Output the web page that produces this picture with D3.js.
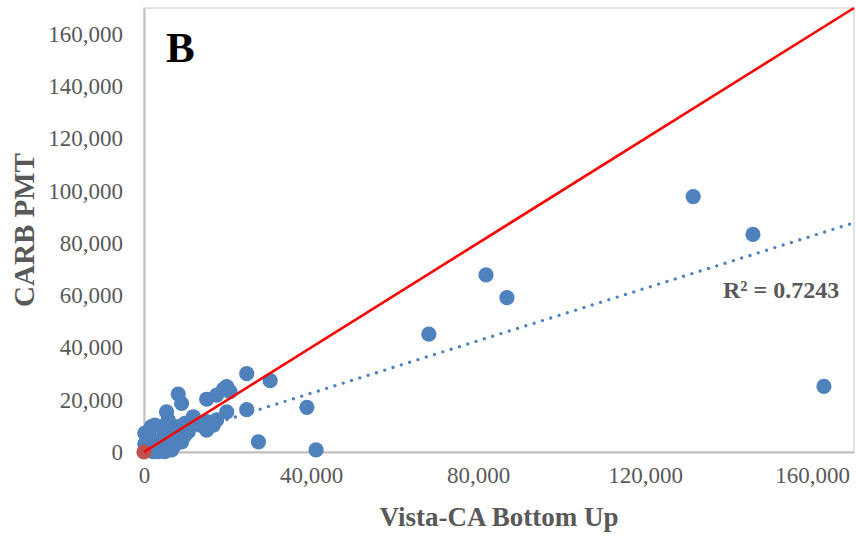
<!DOCTYPE html>
<html>
<head>
<meta charset="utf-8">
<script src="https://cdn.jsdelivr.net/npm/d3@7"></script>
<style>
  html, body { margin: 0; padding: 0; background: #ffffff; }
  svg { display: block; }
  text { font-family: "Liberation Serif", "Times New Roman", serif; }
</style>
</head>
<body>
<svg id="chart" width="856" height="536"></svg>
<script>
// Vista-CA bottom-up estimates (x) against CARB PMT (y)
const vistaX = [
  131500, 145800, 162800, 81900, 86900, 68200, 39000, 41200, 27400, 30200,
  24600, 24600, 19800, 8200, 15000, 19000, 20600, 19800, 17400, 9000,
  5400, 17400, 15800, 15000, 11800, 13400, 9800, 8200, 9000, 5800,
  4200, 1800, 1000, 200, 2600, 5800, 7400, 3000, 4200, 5800,
  1000, 2200, 3400, 7400, 9000, 9800, 10600, 6600, 5000, 1400,
  4500, 6700, 10500, 12200, 15000, 16600, 500, 1400, 200, 700,
  2600, 3800, 8900
];
const carbY = [
  97800, 83300, 25100, 67800, 59100, 45100, 17100, 800, 3900, 27300,
  30000, 16200, 15400, 22200, 20200, 24000, 23100, 25000, 21800, 18600,
  15400, 12300, 11000, 11600, 13500, 10300, 11000, 9700, 7800, 12300,
  9700, 9700, 7800, 7200, 10300, 5900, 4600, 3300, 2000, 2700,
  1400, 100, 100, 2700, 3900, 6500, 7800, 800, 100, 5400,
  5700, 7700, 9200, 11100, 8400, 10300, 1100, 2700, 3100, 4600,
  1500, 4200, 5400
];

// Reference point at the origin
const originX = [0];
const originY = [0];

const trendSlope = 0.502;
const trendIntercept = 2430;
const rSquared = "0.7243";

const xTicks = [0, 40000, 80000, 120000, 160000];
const yTicks = [0, 20000, 40000, 60000, 80000, 100000, 120000, 140000, 160000];
const axisMax = 170000;

const svg = d3.select("#chart");
const plotLeft = 144, plotRight = 854, plotTop = 8, plotBottom = 452;

const x = d3.scaleLinear().domain([0, axisMax]).range([plotLeft, plotRight]);
const y = d3.scaleLinear().domain([0, axisMax]).range([plotBottom, plotTop]);
const fmt = d3.format(",");

// plot frame
svg.append("rect")
  .attr("x", plotLeft).attr("y", plotTop)
  .attr("width", plotRight - plotLeft).attr("height", plotBottom - plotTop)
  .attr("fill", "none").attr("stroke", "#d9d9d9").attr("stroke-width", 1.5);

// axes
const gx = svg.append("g").attr("transform", `translate(0,${plotBottom})`)
  .call(d3.axisBottom(x).tickValues(xTicks).tickFormat(fmt).tickSize(0).tickPadding(15));
const gy = svg.append("g").attr("transform", `translate(${plotLeft},0)`)
  .call(d3.axisLeft(y).tickValues(yTicks).tickFormat(fmt).tickSize(0).tickPadding(21));
[gx, gy].forEach(g => {
  g.select(".domain").attr("stroke", "#bfbfbf").attr("stroke-width", 2);
  g.selectAll("text")
    .attr("fill", "#595959")
    .style("font-family", "'Liberation Serif', 'Times New Roman', serif")
    .style("font-size", "23px");
});

// trendline (dotted)
const trendLine = d3.line().x(d => x(d)).y(d => y(trendIntercept + trendSlope * d));
svg.append("path")
  .datum([0, axisMax])
  .attr("d", trendLine)
  .attr("fill", "none")
  .attr("stroke", "#4f81bd")
  .attr("stroke-width", 3.4)
  .attr("stroke-linecap", "round")
  .attr("stroke-dasharray", "0 8.7");

// data points
svg.append("g").selectAll("circle")
  .data(vistaX.map((v, i) => [v, carbY[i]]))
  .join("circle")
  .attr("cx", d => x(d[0]))
  .attr("cy", d => y(d[1]))
  .attr("r", 7.6)
  .attr("fill", "#4f81bd");

svg.append("g").selectAll("circle")
  .data(originX.map((v, i) => [v, originY[i]]))
  .join("circle")
  .attr("cx", d => x(d[0]))
  .attr("cy", d => y(d[1]))
  .attr("r", 7.6)
  .attr("fill", "#c0504d");

// 1:1 line
svg.append("path")
  .datum([0, axisMax])
  .attr("d", d3.line().x(d => x(d)).y(d => y(d)))
  .attr("fill", "none")
  .attr("stroke", "#ff0000")
  .attr("stroke-width", 2.6);

// R² label
svg.append("text")
  .attr("x", 723).attr("y", 298)
  .attr("fill", "#595959")
  .attr("font-weight", "bold")
  .attr("font-size", 24)
  .text(`R² = ${rSquared}`);

// panel letter
svg.append("text")
  .attr("x", 166).attr("y", 62)
  .attr("fill", "#000000")
  .attr("font-weight", "bold")
  .attr("font-size", 43)
  .text("B");

// axis titles
svg.append("text")
  .attr("x", (plotLeft + plotRight) / 2).attr("y", 526)
  .attr("text-anchor", "middle")
  .attr("fill", "#595959")
  .attr("font-weight", "bold")
  .attr("font-size", 27)
  .text("Vista-CA Bottom Up");

svg.append("text")
  .attr("transform", `translate(34,${(plotTop + plotBottom) / 2}) rotate(-90)`)
  .attr("text-anchor", "middle")
  .attr("fill", "#595959")
  .attr("font-weight", "bold")
  .attr("font-size", 29)
  .text("CARB PMT");
</script>
</body>
</html>
